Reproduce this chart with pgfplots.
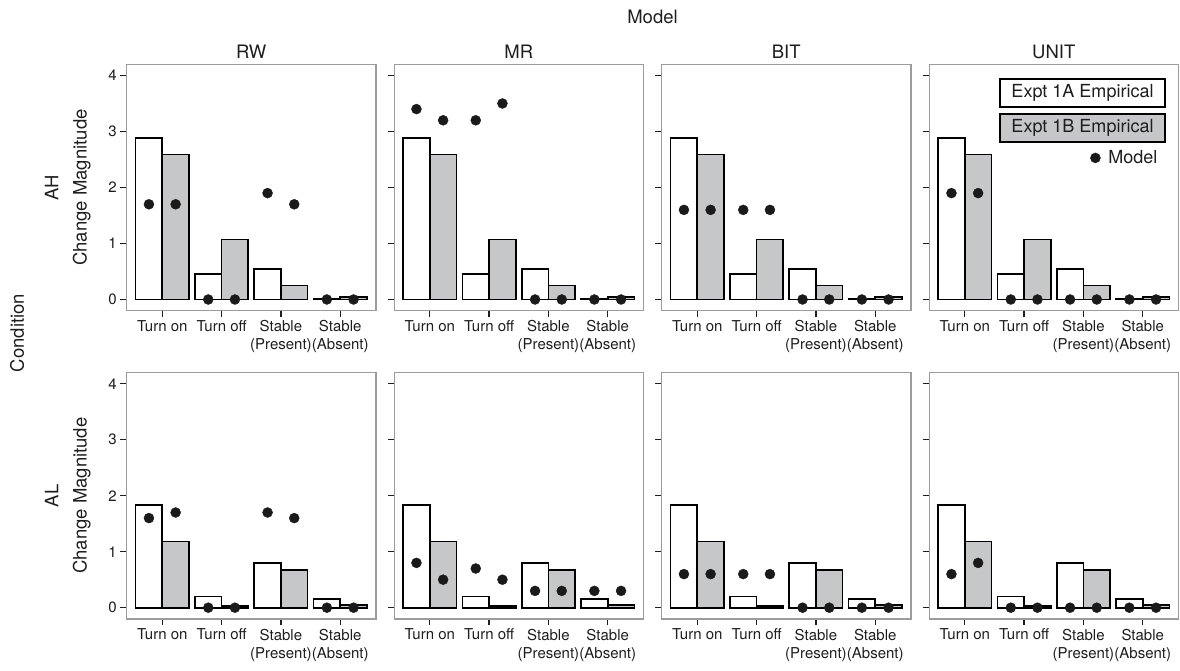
\documentclass[border=0pt]{standalone}
\usepackage{fontspec}
\setmainfont{TeX Gyre Heros}
\usepackage{pgfplots}
\usepackage{pgfplotstable}
\pgfplotsset{compat=1.18}
\definecolor{barGray}{HTML}{C6C7C9}
\definecolor{frameGray}{HTML}{9C9C9C}
\definecolor{dotBlack}{HTML}{1A1A1A}
\definecolor{txt}{HTML}{1E1E1E}

\pgfplotstableread{
x a b
1 2.88 2.59
2 0.46 1.07
3 0.54 0.25
4 0.02 0.05
}\AHemp
\pgfplotstableread{
x a b
1 1.84 1.18
2 0.20 0.03
3 0.80 0.67
4 0.15 0.05
}\ALemp

\pgfplotsset{
  panel/.style={
    scale only axis, width=249.1pt, height=246.4pt,
    anchor=south west,
    xmin=0.4, xmax=4.6, ymin=-0.2, ymax=4.2,
    xtick={1,2,3,4}, ytick={0,1,2,3,4},
    xticklabels={Turn on,Turn off,{Stable\\(Present)},{Stable\\(Absent)}},
    xticklabel style={align=center, font=\fontsize{15}{18}\selectfont, text=txt},
    yticklabel style={font=\fontsize{15}{18}\selectfont, text=txt},
    /pgf/number format/assume math mode=true,
    tick align=outside, major tick length=6.5pt,
    xtick pos=lower, ytick pos=left,
    tick style={line width=1.4pt, color=txt},
    axis line style={draw=frameGray, line width=1.4pt},
    clip=false,
  },
  noy/.style={yticklabels={}},
}

\newcommand{\panel}[5]{%
\begin{axis}[panel, at={(#1pt,#2pt)}, #5]
\addplot[ybar, bar width=0.45, fill=white, draw=black, line width=1.7pt, line join=miter, forget plot]
  table[x expr=\thisrow{x}-0.225, y=a] {#3};
\addplot[ybar, bar width=0.45, fill=barGray, draw=black, line width=1.7pt, line join=miter, forget plot]
  table[x expr=\thisrow{x}+0.225, y=b] {#3};
\addplot[only marks, mark=*, mark size=5pt, color=dotBlack] coordinates {#4};
\end{axis}}

\begin{document}
\begin{tikzpicture}
\path[use as bounding box] (0pt,0pt) rectangle (1180pt,671pt);

% ---- AH row ----
\panel{126.7}{360.3}{\AHemp}{(0.775,1.7) (1.225,1.7) (1.775,0) (2.225,0) (2.775,1.9) (3.225,1.7) (3.775,0) (4.225,0)}{}
\panel{394.2}{360.3}{\AHemp}{(0.775,3.4) (1.225,3.2) (1.775,3.2) (2.225,3.5) (2.775,0) (3.225,0) (3.775,0) (4.225,0)}{noy}
\panel{661.7}{360.3}{\AHemp}{(0.775,1.6) (1.225,1.6) (1.775,1.6) (2.225,1.6) (2.775,0) (3.225,0) (3.775,0) (4.225,0)}{noy}
\panel{929.2}{360.3}{\AHemp}{(0.775,1.9) (1.225,1.9) (1.775,0) (2.225,0) (2.775,0) (3.225,0) (3.775,0) (4.225,0)}{noy,
  legend entries={\hspace*{6pt}Model},
  legend style={draw=none, fill=none, font=\fontsize{18}{21}\selectfont, text=txt,
    at={(0.925,0.62)}, anchor=east, inner sep=0pt,
    legend cell align=left}}

% ---- AL row ----
\panel{126.7}{52.1}{\ALemp}{(0.775,1.6) (1.225,1.7) (1.775,0) (2.225,0) (2.775,1.7) (3.225,1.6) (3.775,0) (4.225,0)}{}
\panel{394.2}{52.1}{\ALemp}{(0.775,0.8) (1.225,0.5) (1.775,0.7) (2.225,0.5) (2.775,0.3) (3.225,0.3) (3.775,0.3) (4.225,0.3)}{noy}
\panel{661.7}{52.1}{\ALemp}{(0.775,0.6) (1.225,0.6) (1.775,0.6) (2.225,0.6) (2.775,0) (3.225,0) (3.775,0) (4.225,0)}{noy}
\panel{929.2}{52.1}{\ALemp}{(0.775,0.6) (1.225,0.8) (1.775,0) (2.225,0) (2.775,0) (3.225,0) (3.775,0) (4.225,0)}{noy}

% ---- legend boxes ----
\draw[fill=white, draw=black, line width=1.7pt] (1000pt,564.3pt) rectangle (1165pt,591.7pt);
\node[font=\fontsize{18}{21}\selectfont, text=txt] at (1082.5pt,578pt) {Expt 1A Empirical};
\draw[fill=barGray, draw=black, line width=1.7pt] (1000pt,529.3pt) rectangle (1165pt,557pt);
\node[font=\fontsize{18}{21}\selectfont, text=txt] at (1082.5pt,543.15pt) {Expt 1B Empirical};

% ---- titles ----
\begin{scope}[every node/.style={font=\fontsize{18.5}{22}\selectfont, text=txt, inner sep=0pt}]
\node[anchor=base] at (652.5pt,647.5pt) {Model};
\node[anchor=base] at (251.25pt,612pt) {RW};
\node[anchor=base] at (518.75pt,612pt) {MR};
\node[anchor=base] at (786.25pt,612pt) {BIT};
\node[anchor=base] at (1053.75pt,612pt) {UNIT};
\node[anchor=base, rotate=90] at (24pt,338pt) {Condition};
\node[anchor=base, rotate=90] at (58.3pt,483.5pt) {AH};
\node[anchor=base, rotate=90] at (86.5pt,483.5pt) {Change Magnitude};
\node[anchor=base, rotate=90] at (58.3pt,175.3pt) {AL};
\node[anchor=base, rotate=90] at (86.5pt,175.3pt) {Change Magnitude};
\end{scope}
\end{tikzpicture}
\end{document}
